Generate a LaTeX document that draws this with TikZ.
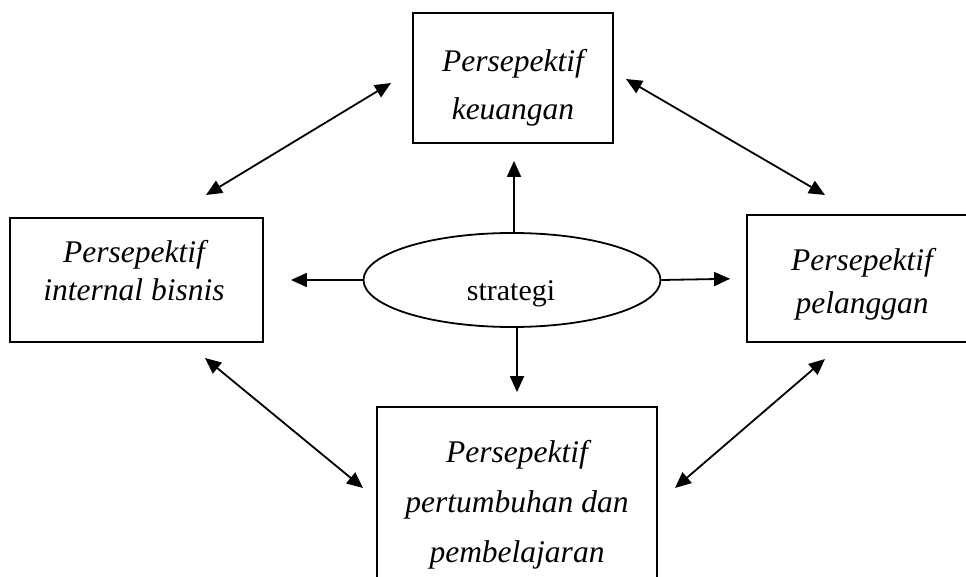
\documentclass[tikz,border=0pt]{standalone}
\usepackage{fontspec}
\setmainfont{Liberation Serif}
\usetikzlibrary{arrows.meta,shapes.geometric}

\begin{document}
\begin{tikzpicture}[x=1pt, y=-1pt,
  kotak/.style = {draw, line width=1.8pt, rectangle, inner sep=0pt},
  elips/.style = {draw, line width=1.8pt, ellipse, inner sep=0pt},
  teks/.style = {align=center, inner sep=0pt},
  panah/.style = {-{Triangle[length=16pt,width=14pt]}, line width=1.8pt},
  dobel/.style = {{Triangle[length=16pt,width=14pt]}-{Triangle[length=16pt,width=14pt]}, line width=1.8pt}]
\useasboundingbox (0,0) rectangle (966,577);
\clip (0,0) rectangle (966,577);
% kotak-kotak
\node[kotak, minimum width=200pt, minimum height=130pt] (keu) at (513,78) {};
\node[kotak, minimum width=253pt, minimum height=124pt] (int) at (136.5,280) {};
\node[kotak, minimum width=230pt, minimum height=127pt] (pel) at (862,278.5) {};
\node[kotak, minimum width=280pt, minimum height=193pt] (pem) at (517,503.5) {};
\node[elips, minimum width=297pt, minimum height=94pt] (str) at (512,280) {};
% teks (base = baris terakhir)
\node[teks, anchor=base, font=\fontsize{31.5}{48}\selectfont\itshape] (keu-t) at (513,120) {Persepektif\\keuangan};
\node[teks, anchor=base, font=\fontsize{31.5}{38}\selectfont\itshape] (int-t) at (134,300) {Persepektif\\internal bisnis};
\node[teks, anchor=base, font=\fontsize{31.5}{43}\selectfont\itshape] (pel-t) at (862,313) {Persepektif\\pelanggan};
\node[teks, anchor=base, font=\fontsize{31.5}{50}\selectfont\itshape] (pem-t) at (517,562) {Persepektif\\pertumbuhan dan\\pembelajaran};
\node[teks, anchor=base, font=\fontsize{30}{36}\selectfont] (str-t) at (511,300) {strategi};
% panah dari strategi
\draw[panah, shorten >=17pt] ([xshift=2pt]str.north) -- ([xshift=2pt]str.north |- keu.south);
\draw[panah, shorten >=14pt] ([xshift=5pt]str.south) -- ([xshift=5pt]str.south |- pem.north);
\draw[panah, shorten >=27pt] (str.west) -- (int.east);
\draw[panah, shorten >=16pt] (str.east) -- (pel.west);
% panah dua arah
\coordinate (tl1) at (206,195);
\coordinate (tl2) at (391,83);
\coordinate (tr1) at (626,79);
\coordinate (tr2) at (825,195);
\coordinate (bl1) at (205,358);
\coordinate (bl2) at (363,488);
\coordinate (br1) at (675,488);
\coordinate (br2) at (825,359);
\draw[dobel] (tl1) -- (tl2);
\draw[dobel] (tr1) -- (tr2);
\draw[dobel] (bl1) -- (bl2);
\draw[dobel] (br1) -- (br2);
\end{tikzpicture}
\end{document}
